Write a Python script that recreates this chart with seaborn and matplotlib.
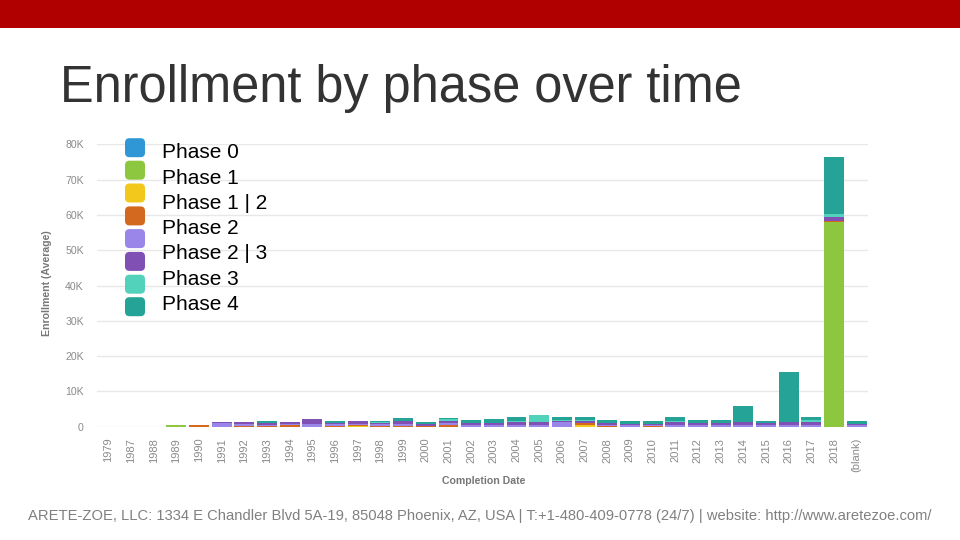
import numpy as np
import pandas as pd
import matplotlib
matplotlib.use("Agg")
import matplotlib.pyplot as plt
from matplotlib.patches import Rectangle, FancyBboxPatch
from matplotlib.ticker import FuncFormatter, MultipleLocator
import seaborn as sns

# ---------------- data (values in thousands) ----------------
categories = ["1979", "1987", "1988"] + [str(y) for y in range(1989, 2019)] + ["(blank)"]

phase0    = [0]*34
phase1    = [0, 0, 0, 0.5] + [0]*29 + [0]
phase1_2  = [0, 0, 0, 0, 0, 0, 0, 0, 0, 0, 0, 0.2, 0, 0, 0, 0, 0, 0, 0, 0, 0,
             0.6, 0, 0, 0, 0, 0, 0, 0, 0, 0, 0, 0, 0]
phase2    = [0, 0, 0, 0, 0.35, 0, 0.2, 0.1, 0.4, 0, 0.2, 0.4, 0.2, 0.3, 0.3, 0.5, 0, 0, 0, 0, 0,
             0.4, 0.2, 0, 0.1, 0, 0, 0, 0, 0, 0, 0, 0.4, 0]
phase2_3  = [0, 0, 0, 0, 0, 1.1, 0.6, 0.5, 0.3, 0.8, 0.5, 0.3, 0.5, 0.4, 0, 0.6, 0.5, 0.5, 0.6, 0.5, 1.2,
             0, 0.4, 0.4, 0.4, 0.5, 0.4, 0.4, 0.5, 0.4, 0.5, 0.5, 0, 0.4]
phase3    = [0, 0, 0, 0, 0.15, 0.3, 0.6, 0.4, 0.6, 1.4, 0.4, 0.6, 0.3, 0.8, 0.5, 0.6, 0.6, 0.6, 0.8, 0.7, 0.5,
             0.6, 0.5, 0.5, 0.4, 0.8, 0.6, 0.6, 0.7, 0.6, 0.9, 0.7, 1.1, 0.5]
phase4    = [0, 0, 0, 0, 0, 0, 0, 0, 0, 0, 0, 0, 0.2, 0, 0, 0.4, 0, 0, 0.3, 2.2, 0.3,
             0.4, 0, 0, 0, 0.3, 0, 0, 0, 0, 0, 0.8, 0.8, 0]
phase_na  = [0, 0, 0, 0, 0, 0, 0, 0.6, 0, 0, 0.5, 0, 0.3, 1.0, 0.4, 0.4, 0.9, 1.1, 1.0, 0, 0.7,
             0.7, 0.9, 0.8, 0.8, 1.1, 1.0, 1.0, 4.6, 0.7, 14.1, 0.7, 16.0, 0.8]
phase1[32] = 58.0  # 2018 Phase 1 bar

series = [phase0, phase1, phase1_2, phase2, phase2_3, phase3, phase4, phase_na]
colors = ["#2f97d6", "#8dc63f", "#f2c81c", "#d2691e", "#9a86e8", "#8050b5", "#52d2ba", "#24a396"]
legend_labels = ["Phase 0", "Phase 1", "Phase 1 | 2", "Phase 2", "Phase 2 | 3", "Phase 3", "Phase 4"]

title = "Enrollment by phase over time"
footer = ("ARETE-ZOE, LLC: 1334 E Chandler Blvd 5A-19, 85048 Phoenix, AZ, USA | "
          "T:+1-480-409-0778 (24/7) | website: http://www.aretezoe.com/")

# ---------------- figure ----------------
sns.set_theme(style="white")
plt.rcParams["font.family"] = ["Liberation Sans", "DejaVu Sans"]

W, H = 960, 540
fig = plt.figure(figsize=(9.6, 5.4), dpi=100)
fig.patch.set_facecolor("white")

def fx(px):
    return px / W

def fy(py):
    return 1 - py / H

# red top band
fig.add_artist(Rectangle((0, fy(28)), 1, 28 / H, transform=fig.transFigure,
                         facecolor="#b00000", edgecolor="none"))

fig.text(fx(60), fy(102), title, fontsize=36.4, color="#333333", ha="left", va="baseline")

ax = fig.add_axes([fx(97), fy(426.7), fx(868 - 97), (426.7 - 144.3) / H])

bottom = np.zeros(len(categories))
for vals, col in zip(series, colors):
    v = np.array(vals, dtype=float) * 1000
    sns.barplot(x=categories, y=v, order=categories, color=col, bottom=bottom,
                width=0.88, errorbar=None, linewidth=0, saturation=1, ax=ax)
    bottom = bottom + v

ax.set_ylim(0, 80000)
ax.set_xlim(-0.5, len(categories) - 0.5)
ax.yaxis.set_major_locator(MultipleLocator(10000))
ax.yaxis.set_major_formatter(FuncFormatter(lambda v, p: "0" if v == 0 else f"{int(v/1000)}K"))
ax.grid(axis="y", color="#e8e8e8", linewidth=1)
ax.set_axisbelow(True)
for s in ax.spines.values():
    s.set_visible(False)
ax.tick_params(axis="y", length=0, pad=9.5, labelsize=7.6, labelcolor="#8a8a8a")
ax.tick_params(axis="x", length=0, pad=8, labelsize=8, labelcolor="#8a8a8a", labelrotation=90)
ax.set_xlabel("")
ax.set_ylabel("")

fig.text(fx(47), fy(283), "Enrollment (Average)", rotation=90, ha="center", va="center",
         fontsize=7.6, color="#777777", fontweight="bold")
fig.text(fx(484), fy(481), "Completion Date", ha="center", va="center",
         fontsize=7.6, color="#777777", fontweight="bold")

# legend swatches (8 colours) and labels
sw_centers = [147.7, 170.2, 193.0, 215.9, 238.6, 261.4, 284.2, 306.7]
for cy, col in zip(sw_centers, colors):
    fig.add_artist(FancyBboxPatch((125 / 100, (H - cy - 9.5) / 100), 0.20, 0.19,
                                  boxstyle="round,pad=0,rounding_size=0.045",
                                  transform=fig.dpi_scale_trans,
                                  facecolor=col, edgecolor="none"))
txt_centers = [152.7, 178.0, 203.3, 228.6, 253.9, 279.2, 304.5]
for cy, lab in zip(txt_centers, legend_labels):
    fig.text(fx(161.5), fy(cy), lab, fontsize=15, color="black", ha="left", va="center")

fig.text(fx(480), fy(516), footer, fontsize=10.6, color="#808080", ha="center", va="center")

fig.savefig("out.png", dpi=100)
